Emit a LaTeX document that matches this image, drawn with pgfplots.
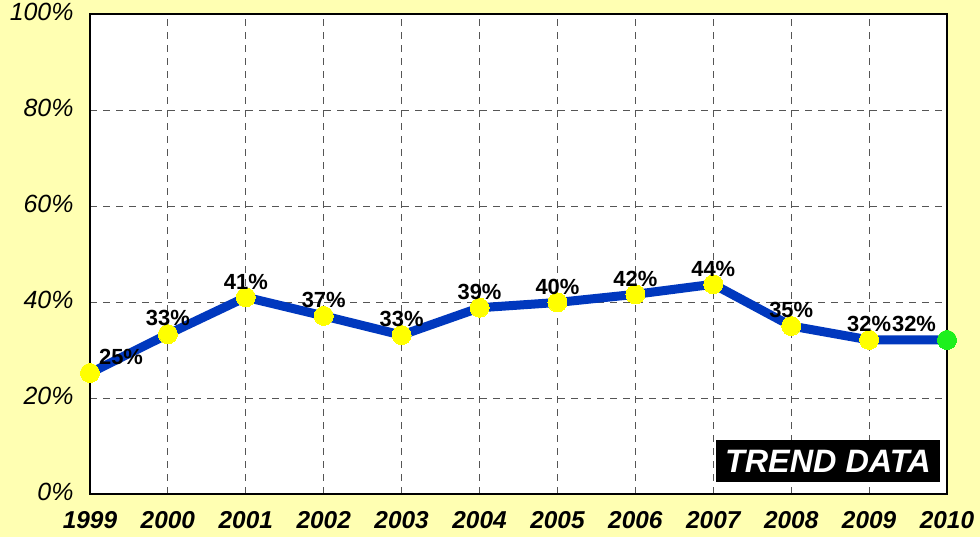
\documentclass[border=0pt]{standalone}
\usepackage{pgfplots}
\pgfplotsset{compat=1.18}
\usepackage{fontspec}
\setmainfont{Liberation Sans}
\definecolor{bgyellow}{RGB}{255,255,178}
\definecolor{lineblue}{RGB}{0,56,190}
\definecolor{mkyellow}{RGB}{255,255,0}
\definecolor{mkgreen}{RGB}{30,240,30}
\definecolor{gridgray}{RGB}{85,85,85}
\begin{document}
\begin{tikzpicture}[x=1bp,y=1bp]
\fill[bgyellow] (0,0) rectangle (980,537);
\path[use as bounding box] (0,0) rectangle (980,537);
\begin{axis}[
  at={(90bp,43bp)}, anchor=south west,
  scale only axis, width=857bp, height=480bp,
  xmin=1999, xmax=2010, ymin=0, ymax=100,
  axis background/.style={fill=white},
  axis line style={black, line width=1.6pt},
  xtick={1999,2000,...,2010},
  ytick={0,20,40,60,80,100},
  yticklabel={\pgfmathprintnumber{\tick}\%},
  /pgf/number format/1000 sep={},
  /pgf/number format/assume math mode=true,
  xticklabel style={font=\fontsize{24.5}{27}\selectfont\bfseries\itshape, yshift=-14bp},
  yticklabel style={font=\fontsize{25}{28}\selectfont\itshape, xshift=-13bp, yshift=2bp},
  major tick length=0pt,
  grid=major,
  major grid style={gridgray, dash pattern=on 7bp off 6bp, line width=0.8pt},
  clip=false,
]
\addplot[lineblue, line width=9bp, line join=round,
  mark=*, mark size=9.5bp, mark options={solid, line width=0pt, draw=mkyellow, fill=mkyellow},
  nodes near coords,
  point meta=explicit symbolic,
  visualization depends on={value \thisrow{dx} \as \dx},
  every node near coord/.append style={font=\fontsize{22}{24}\selectfont\bfseries, anchor=south, inner sep=0pt, yshift=8bp, xshift=\dx bp, text=black},
] table[meta=lab] {
x y lab dx
1999 25.2 25\% 31
2000 33.3 33\% 0
2001 41.0 41\% 0
2002 37.1 37\% 0
2003 33.1 33\% 0
2004 38.8 39\% 0
2005 39.9 40\% 0
2006 41.6 42\% 0
2007 43.7 44\% 0
2008 35.0 35\% 0
2009 32.1 32\% 0
2010 32.1 32\% -33
};
\addplot[only marks, mark=*, mark size=9.5bp, mark options={solid, line width=0pt, draw=mkgreen, fill=mkgreen}] coordinates {(2010,32.1)};
\node[fill=black, text=white, font=\fontsize{32.5}{34}\selectfont\bfseries\itshape, inner xsep=4bp, inner ysep=2bp, minimum width=224bp, minimum height=42bp] at (rel axis cs:0.861,0.069) {TREND DATA};
\end{axis}
\end{tikzpicture}
\end{document}
